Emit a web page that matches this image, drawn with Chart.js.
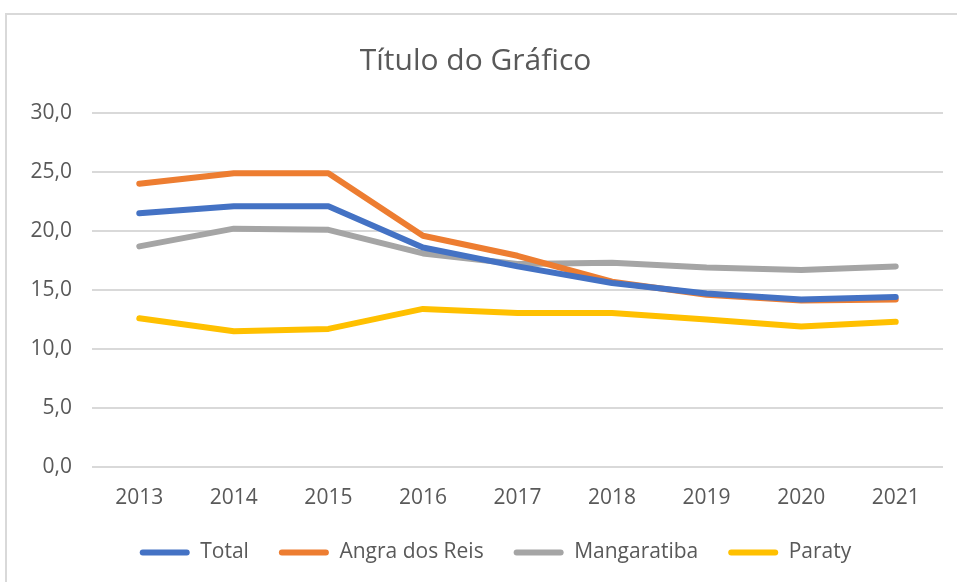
<!DOCTYPE html>
<html>
<head>
<meta charset="utf-8">
<script src="https://cdn.jsdelivr.net/npm/chart.js@4.4.0/dist/chart.umd.min.js"></script>
<style>
  body { margin: 0; background: #fff; }
  #box {
    position: absolute; left: 5px; top: 13px;
    width: 960px; height: 580px;
    border: 2px solid #d9d9d9;
    box-sizing: border-box;
  }
  #wrap { position: absolute; left: 1px; top: 1px; width: 951px; height: 568px; }
</style>
</head>
<body>
<div id="box"><div id="wrap"><canvas id="grafico"></canvas></div></div>
<script>
// dados
var anos = ['2013', '2014', '2015', '2016', '2017', '2018', '2019', '2020', '2021'];
var total = [21.5, 22.1, 22.1, 18.6, 17.0, 15.6, 14.7, 14.2, 14.4];
var angra = [24.0, 24.9, 24.9, 19.6, 17.9, 15.7, 14.6, 14.1, 14.2];
var mangaratiba = [18.7, 20.2, 20.1, 18.1, 17.2, 17.3, 16.9, 16.7, 17.0];
var paraty = [12.6, 11.5, 11.7, 13.4, 13.05, 13.05, 12.5, 11.9, 12.3];

var fonte = 'Open Sans, Noto Sans, sans-serif';
var cinzaTexto = '#595959';

function serie(nome, valores, cor) {
    return {
        label: nome,
        data: valores,
        borderColor: cor,
        backgroundColor: cor,
        borderWidth: 6,
        pointRadius: 0,
        tension: 0,
        borderCapStyle: 'round',
        borderJoinStyle: 'round'
    };
}

// empurra a legenda um pouco para a direita, como no Excel
var moveLegenda = {
    id: 'moveLegenda',
    afterLayout: function(chart) {
        chart.legend.left += 20;
        chart.legend.right += 20;
    }
};

var ctx = document.getElementById('grafico').getContext('2d');
var grafico = new Chart(ctx, {
    type: 'line',
    data: {
        labels: anos,
        datasets: [
            serie('Total', total, '#4472C4'),
            serie('Angra dos Reis', angra, '#ED7D31'),
            serie('Mangaratiba', mangaratiba, '#A5A5A5'),
            serie('Paraty', paraty, '#FFC000')
        ]
    },
    plugins: [moveLegenda],
    options: {
        responsive: true,
        maintainAspectRatio: false,
        animation: false,
        layout: { padding: { left: 0, right: 16, top: 0, bottom: 11 } },
        plugins: {
            title: {
                display: true,
                text: 'Título do Gráfico',
                color: cinzaTexto,
                font: { family: fonte, size: 30, weight: 'normal' },
                padding: { top: 27, bottom: 34 }
            },
            legend: {
                position: 'bottom',
                labels: {
                    color: cinzaTexto,
                    font: { family: fonte, size: 21 },
                    boxWidth: 50,
                    boxHeight: 6,
                    padding: 30,
                    generateLabels: function(chart) {
                        return chart.data.datasets.map(function(ds, i) {
                            return {
                                text: ds.label,
                                fillStyle: ds.borderColor,
                                strokeStyle: ds.borderColor,
                                lineWidth: 0,
                                borderRadius: 3,
                                fontColor: cinzaTexto,
                                datasetIndex: i
                            };
                        });
                    }
                }
            },
            tooltip: { enabled: false }
        },
        scales: {
            x: {
                offset: true,
                grid: { display: false },
                border: { display: false },
                ticks: { color: cinzaTexto, font: { family: fonte, size: 21 }, padding: 10 },
                afterFit: function(scale) { scale.height = 45; }
            },
            y: {
                min: 0,
                max: 30,
                grid: { color: '#d9d9d9', lineWidth: 2, drawTicks: false },
                border: { display: false },
                ticks: {
                    stepSize: 5,
                    color: cinzaTexto,
                    font: { family: fonte, size: 21 },
                    padding: 20,
                    callback: function(v) { return v.toFixed(1).replace('.', ','); }
                },
                afterFit: function(scale) { scale.width = 84; }
            }
        }
    }
});
</script>
</body>
</html>
